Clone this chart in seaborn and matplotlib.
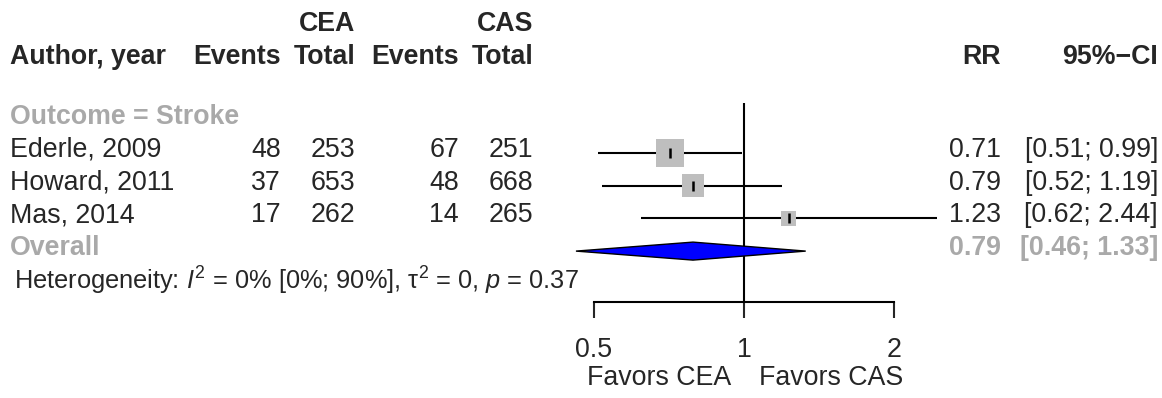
import numpy as np
import pandas as pd
import matplotlib
matplotlib.use("Agg")
import matplotlib.pyplot as plt
from matplotlib.transforms import offset_copy
import seaborn as sns

# ---------------- data ----------------
studies = ["Ederle, 2009", "Howard, 2011", "Mas, 2014"]
cea_events = [48, 37, 17]
cea_total = [253, 653, 262]
cas_events = [67, 48, 14]
cas_total = [251, 668, 265]
rr = [0.71, 0.79, 1.23]
ci_low = [0.51, 0.52, 0.62]
ci_high = [0.99, 1.19, 2.44]
weights = [50.7, 34.2, 15.1]          # percent weight (square area)
overall_rr, overall_low, overall_high = 0.79, 0.46, 1.33
subgroup = "Outcome = Stroke"
heterogeneity = r"Heterogeneity: $I^2$ = 0% [0%; 90%], $\mathrm{\tau}^2$ = 0, $p$ = 0.37"
axis_ticks = [0.5, 1, 2]
axis_ticklabels = ["0.5", "1", "2"]
label_left = "Favors CEA"
label_right = "Favors CAS"

# ---------------- style ----------------
sns.set_style("white")
plt.rcParams["font.family"] = ["Liberation Sans", "DejaVu Sans"]
plt.rcParams["mathtext.fontset"] = "custom"
plt.rcParams["mathtext.rm"] = "Liberation Sans"
plt.rcParams["mathtext.it"] = "Liberation Sans:italic"
plt.rcParams["mathtext.bf"] = "Liberation Sans:bold"

W, H = 1162, 398
FS = 19.3
FS_HET = 18.3
GREY_TXT = "#A9A9A9"
GREY_SQ = "#BEBEBE"

fig = plt.figure(figsize=(W / 100, H / 100), dpi=100)

# text layer in pixel coordinates
tx = fig.add_axes([0, 0, 1, 1])
tx.set_xlim(0, W)
tx.set_ylim(H, 0)
tx.axis("off")

# row layout (pixels from top)
ROW0, ROWH = 153, 32.7
TXT_OFF = -3
n = len(studies)
study_y = [ROW0 + ROWH * i for i in range(n)]
overall_y = ROW0 + ROWH * n
sub_y = ROW0 - ROWH
het_y = ROW0 + ROWH * (n + 1)
head_y, head2_y = 57, 24

# column right edges
c_ev1, c_tot1, c_ev2, c_tot2, c_rr, c_ci = 281, 355, 459, 533, 1001, 1158

# headers
bold = dict(fontsize=FS, fontweight="bold", va="center")
tx.text(9.6, head_y, "Author, year", ha="left", **bold)
tx.text(c_ev1, head_y, "Events", ha="right", **bold)
tx.text(c_tot1, head_y, "Total", ha="right", **bold)
tx.text(c_ev2, head_y, "Events", ha="right", **bold)
tx.text(c_tot2, head_y, "Total", ha="right", **bold)
tx.text(c_tot1, head2_y, "CEA", ha="right", **bold)
tx.text(c_tot2, head2_y, "CAS", ha="right", **bold)
tx.text(c_rr, head_y, "RR", ha="right", **bold)
tx.text(c_ci, head_y, "95%\u2212CI", ha="right", **bold)

tx.text(9.6, sub_y + TXT_OFF, subgroup, ha="left", va="center", fontsize=FS,
        fontweight="bold", color=GREY_TXT)

reg = dict(fontsize=FS, va="center")
for i in range(n):
    y = study_y[i] + TXT_OFF
    tx.text(9.6, y, studies[i], ha="left", **reg)
    tx.text(c_ev1, y, f"{cea_events[i]}", ha="right", **reg)
    tx.text(c_tot1, y, f"{cea_total[i]}", ha="right", **reg)
    tx.text(c_ev2, y, f"{cas_events[i]}", ha="right", **reg)
    tx.text(c_tot2, y, f"{cas_total[i]}", ha="right", **reg)
    tx.text(c_rr, y, f"{rr[i]:.2f}", ha="right", **reg)
    tx.text(c_ci, y, f"[{ci_low[i]:.2f}; {ci_high[i]:.2f}]", ha="right", **reg)

y = overall_y + TXT_OFF
tx.text(9.6, y, "Overall", ha="left", fontweight="bold", color=GREY_TXT, **reg)
tx.text(c_rr, y, f"{overall_rr:.2f}", ha="right", fontweight="bold", color=GREY_TXT, **reg)
tx.text(c_ci, y, f"[{overall_low:.2f}; {overall_high:.2f}]", ha="right",
        fontweight="bold", color=GREY_TXT, **reg)
tx.text(14, het_y + TXT_OFF, heterogeneity, ha="left", va="center", fontsize=FS_HET)

# ---------------- forest panel (log scale) ----------------
XMIN, XMAX = 0.44, 2.5
px_ref, px_per_doubling = 744, 150
left_px = px_ref + px_per_doubling * np.log2(XMIN)
right_px = px_ref + px_per_doubling * np.log2(XMAX)
ax = fig.add_axes([left_px / W, 0, (right_px - left_px) / W, 1])
ax.set_xscale("log")
ax.set_xlim(XMIN, XMAX)
ax.set_ylim(H, 0)
ax.patch.set_alpha(0)
for s in ["top", "left", "right"]:
    ax.spines[s].set_visible(False)

AXIS_Y = 302
ax.spines["bottom"].set_position(("data", AXIS_Y))
ax.spines["bottom"].set_bounds(axis_ticks[0], axis_ticks[-1])
ax.spines["bottom"].set_linewidth(1.5)
ax.spines["bottom"].set_color("black")
ax.set_xticks(axis_ticks)
ax.set_xticklabels(axis_ticklabels)
ax.xaxis.set_minor_locator(matplotlib.ticker.NullLocator())
ax.tick_params(axis="x", direction="out", length=11.5, width=1.5, pad=14,
               labelsize=FS, bottom=True)
ax.set_yticks([])

# reference line
ax.vlines(1, 103, AXIS_Y, color="black", lw=1.5)

df = pd.DataFrame({"study": studies, "rr": rr, "lo": ci_low, "hi": ci_high,
                   "w": weights, "y": study_y})

# CI lines
ax.hlines(df["y"], df["lo"], df["hi"], color="black", lw=1.5, zorder=2)
# squares
sns.scatterplot(data=df, x="rr", y="y", marker="s", s=np.array(weights) * 8.0,
                color=GREY_SQ, linewidth=0, ax=ax, zorder=3, legend=False)
# point markers
ax.plot(df["rr"], df["y"], ls="none", marker="|", ms=6.5, mew=1.8,
        color="black", zorder=4)

# overall diamond
dh = 9
ax.fill([overall_low, overall_rr, overall_high, overall_rr],
        [overall_y, overall_y - dh, overall_y, overall_y + dh],
        facecolor="#0000FF", edgecolor="black", lw=1.0, zorder=3)

ax.set_xlabel("")
ax.set_ylabel("")

# favour labels
fav_y = 378
ax.text(1, fav_y, label_left, ha="right", va="center", fontsize=FS,
        transform=offset_copy(ax.transData, fig=fig, x=-13 / 100, y=0, units="inches"))
ax.text(1, fav_y, label_right, ha="left", va="center", fontsize=FS,
        transform=offset_copy(ax.transData, fig=fig, x=15 / 100, y=0, units="inches"))

fig.savefig("out.png", dpi=100, facecolor="white")
